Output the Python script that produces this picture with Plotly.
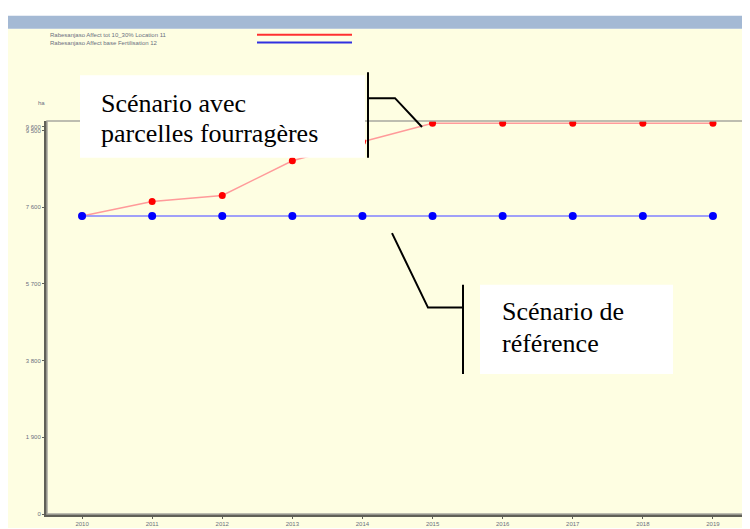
import plotly.graph_objects as go

# data (ha per year)
years = [2010, 2011, 2012, 2013, 2014, 2015, 2016, 2017, 2018, 2019]
scen_fourrage = [7380, 7740, 7890, 8750, 9220, 9680, 9680, 9680, 9680, 9680]
scen_reference = [7380, 7380, 7380, 7380, 7380, 7380, 7380, 7380, 7380, 7380]
name_fourrage = "Rabesanjaso Affect tot 10_30% Location 11"
name_reference = "Rabesanjaso Affect base Fertilisation 12"

y_ticks = [0, 1900, 3800, 5700, 7600, 9500, 9600]
y_ticktext = ["0", "1 900", "3 800", "5 700", "7 600", "9 500", "9 600"]

# the page body adds an 8px offset, so the figure is laid out in page pixels minus 8
OFF = 8
W, H = 750 - OFF, 529 - OFF
L, R, T, B = 47 - OFF, 2, 121 - OFF, 12


def px(x):
    return (x - OFF - L) / (W - L - R)


def py(y):
    return (H - B - (y - OFF)) / (H - T - B)


fig = go.Figure()
fig.add_trace(go.Scatter(x=years, y=scen_fourrage, name=name_fourrage, mode='lines+markers',
                         line=dict(color='#ff9a9a', width=1.5),
                         marker=dict(color='#ff0000', size=7)))
fig.add_trace(go.Scatter(x=years, y=scen_reference, name=name_reference, mode='lines+markers',
                         line=dict(color='#8080ff', width=1.5),
                         marker=dict(color='#0000ff', size=8)))

shapes = [
    # yellow page and blue title band
    dict(type='rect', x0=px(8), x1=px(752), y0=py(28), y1=py(531), fillcolor='#fefee2',
         line_width=0, layer='below'),
    dict(type='rect', x0=px(8), x1=px(752), y0=py(15), y1=py(28), fillcolor='#a4b9d4',
         line_width=0, layer='below'),
    # light frame top/right
    dict(type='rect', x0=0, x1=1, y0=0, y1=1, line=dict(color='#a8a8a0', width=1.5)),
    # legend lines
    dict(type='line', x0=px(257), x1=px(352), y0=py(34), y1=py(34), line=dict(color='#ff3030', width=2)),
    dict(type='line', x0=px(257), x1=px(352), y0=py(42), y1=py(42), line=dict(color='#3030e0', width=2)),
    # callout boxes
    dict(type='rect', x0=px(80), x1=px(365), y0=py(75), y1=py(158), fillcolor='white', line_width=0),
    dict(type='rect', x0=px(480), x1=px(673), y0=py(286), y1=py(376), fillcolor='white', line_width=0),
    # callout leaders
    dict(type='line', x0=px(368), x1=px(368), y0=py(72), y1=py(158), line=dict(color='black', width=2)),
    dict(type='path', path='M %f,%f L %f,%f L %f,%f' % (px(368), py(98), px(395), py(98), px(422), py(127)),
         line=dict(color='black', width=2)),
    dict(type='line', x0=px(463), x1=px(463), y0=py(286), y1=py(376), line=dict(color='black', width=2)),
    dict(type='path', path='M %f,%f L %f,%f L %f,%f' % (px(463), py(309), px(428), py(309), px(392), py(234)),
         line=dict(color='black', width=2)),
]
for s in shapes:
    s.setdefault('xref', 'paper')
    s.setdefault('yref', 'paper')

serif = dict(family='Liberation Serif', size=26, color='black')
small = dict(family='Liberation Sans', size=6, color='#6a7080')
annotations = [
    dict(x=px(99), y=py(103), text='Scénario avec', font=serif, xanchor='left', yanchor='middle'),
    dict(x=px(99), y=py(134), text='parcelles fourragères', font=serif, xanchor='left', yanchor='middle'),
    dict(x=px(500), y=py(313), text='Scénario de', font=serif, xanchor='left', yanchor='middle'),
    dict(x=px(500), y=py(345), text='référence', font=serif, xanchor='left', yanchor='middle'),
    dict(x=px(48), y=py(34), text=name_fourrage, font=small, xanchor='left', yanchor='middle'),
    dict(x=px(48), y=py(42), text=name_reference, font=small, xanchor='left', yanchor='middle'),
    dict(x=px(41), y=py(103), text='ha', font=small, xanchor='center', yanchor='middle'),
]
for a in annotations:
    a.update(xref='paper', yref='paper', showarrow=False)

fig.update_layout(
    width=W, height=H,
    margin=dict(l=L, r=R, t=T, b=B),
    paper_bgcolor='white', plot_bgcolor='#fefee2',
    showlegend=False,
    shapes=shapes, annotations=annotations,
    xaxis=dict(range=[2009.5, 2019.5], tickvals=years, showgrid=False, zeroline=False,
               showline=True, linecolor='#606058', linewidth=3,
               ticks='outside', ticklen=2, tickcolor='#606058',
               tickfont=dict(family='Liberation Sans', size=6, color='#6a7080')),
    yaxis=dict(range=[0, 9735], tickvals=y_ticks, ticktext=y_ticktext, showgrid=False, zeroline=False,
               showline=True, linecolor='#606058', linewidth=3,
               ticks='outside', ticklen=2, tickcolor='#606058',
               tickfont=dict(family='Liberation Sans', size=6, color='#6a7080')),
)

fig.write_html("out.html")
